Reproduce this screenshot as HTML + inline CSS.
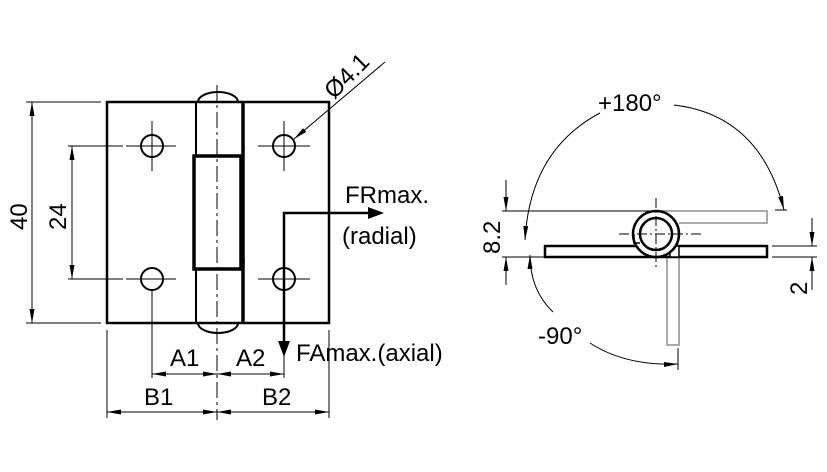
<!DOCTYPE html>
<html><head><meta charset="utf-8"><style>
html,body{margin:0;padding:0;background:#fff;width:827px;height:472px;overflow:hidden}
text{font-family:"Liberation Sans",sans-serif;fill:#000}
</style></head><body>
<svg width="827" height="472" viewBox="0 0 827 472" xmlns="http://www.w3.org/2000/svg">
<defs>
<marker id="a" viewBox="0 0 14 5" refX="14" refY="2.5" markerWidth="14" markerHeight="5" orient="auto-start-reverse" markerUnits="userSpaceOnUse"><path d="M0,0 L14,2.5 L0,5z" fill="#000"/></marker>
</defs>
<g fill="none" stroke="#000">
<rect x="107" y="102" width="222" height="221" stroke-width="2.5"/>
<path d="M198,102 A20,10 0 0 1 238,102" stroke-width="2"/>
<path d="M198,323 A20,10 0 0 0 238,323" stroke-width="2"/>
<line x1="196" y1="102" x2="196" y2="323" stroke-width="2"/>
<line x1="243" y1="102" x2="243" y2="323" stroke-width="3.5"/>
<rect x="194" y="156" width="47" height="113" stroke-width="3.5" fill="#fff"/>
<path d="M241,156 q4,-4 3,-10 M241,269 q4,-4 3,-10" stroke-width="1.2"/>
<line x1="217" y1="85" x2="217" y2="420" stroke-width="1" stroke-dasharray="16,4,3,4"/>
<g stroke-width="2"><circle cx="152" cy="146" r="11"/><circle cx="284" cy="146" r="11"/><circle cx="152" cy="279" r="11"/><circle cx="284" cy="279" r="11"/></g>
<g stroke-width="1">
<path d="M126,146h50M152,121v50M258,146h52M284,121v50M126,279h50M258,279h52"/>
<path d="M26,102h75M26,323h75"/>
<line x1="32" y1="102" x2="32" y2="323" marker-start="url(#a)" marker-end="url(#a)"/>
<path d="M68,146h55M68,279h55"/>
<line x1="72" y1="146" x2="72" y2="279" marker-start="url(#a)" marker-end="url(#a)"/>
<path d="M107,330v88M152,290v88M329,330v88M284,290v88"/>
<line x1="152" y1="374" x2="217" y2="374" marker-start="url(#a)" marker-end="url(#a)"/>
<line x1="217" y1="374" x2="284" y2="374" marker-start="url(#a)" marker-end="url(#a)"/>
<line x1="107" y1="412" x2="217" y2="412" marker-start="url(#a)" marker-end="url(#a)"/>
<line x1="217" y1="412" x2="329" y2="412" marker-start="url(#a)" marker-end="url(#a)"/>
<line x1="385" y1="62" x2="294" y2="139" marker-end="url(#a)"/>
</g>
<polyline points="372,213 284,213 284,345" stroke="#000" stroke-width="2.5" fill="none"/>
<path d="M368,207 L384,213 L368,219z M278,341 L284,357 L290,341z" fill="#000" stroke="none"/>
</g>
<g fill="none">
<path d="M656,211 H767 V223 H679 M667,257 V345 H679 V257" stroke="#aaa" stroke-width="2"/>
<rect x="545" y="246" width="222" height="11" stroke="#000" stroke-width="2.5" fill="#fff"/>
<rect x="670" y="246" width="9" height="11" stroke="#000" stroke-width="1.5" fill="#fff"/>
<circle cx="656" cy="234" r="23" stroke="#000" stroke-width="2.5" fill="#fff"/>
<circle cx="656" cy="234" r="16" stroke="#000" stroke-width="2.5"/>
<path d="M634,234 v9 h6" stroke="#000" stroke-width="1.5"/>
<g stroke="#000" stroke-width="1">
<path d="M619,234h84M656,198v72" stroke-dasharray="10,3,2,3"/>
<path d="M502,211h152M502,257h43M787,210h-12M772,246h45M772,257h45"/>
<line x1="506" y1="180" x2="506" y2="211" marker-end="url(#a)"/>
<line x1="506" y1="285" x2="506" y2="257" marker-end="url(#a)"/>
<line x1="812" y1="218" x2="812" y2="246" marker-end="url(#a)"/>
<line x1="812" y1="290" x2="812" y2="257" marker-end="url(#a)"/>
<path d="M674,105 Q760,115 784,210" marker-end="url(#a)"/>
<path d="M600,113 Q530,150 525,240" marker-end="url(#a)"/>
<path d="M553,312 Q530,290 530,255" marker-end="url(#a)"/>
<path d="M590,343 Q625,366 678,364" marker-end="url(#a)"/>
<path d="M678,348v22"/>
</g>
</g>
<g font-size="24">
<text transform="translate(27,230) rotate(-90)">40</text>
<text transform="translate(66,230) rotate(-90)">24</text>
<text x="170" y="366">A1</text>
<text x="236" y="366">A2</text>
<text x="144" y="405">B1</text>
<text x="262" y="405">B2</text>
<text x="345" y="203">FRmax.</text>
<text x="342" y="244">(radial)</text>
<text x="296" y="361">FAmax.(axial)</text>
<text transform="translate(334,100) rotate(-45)">Ø4.1</text>
<text x="598" y="111">+180°</text>
<text x="538" y="344">-90°</text>
<text transform="translate(500,254) rotate(-90)">8.2</text>
<text transform="translate(807,295) rotate(-90)">2</text>
</g>
</svg>
</body></html>
